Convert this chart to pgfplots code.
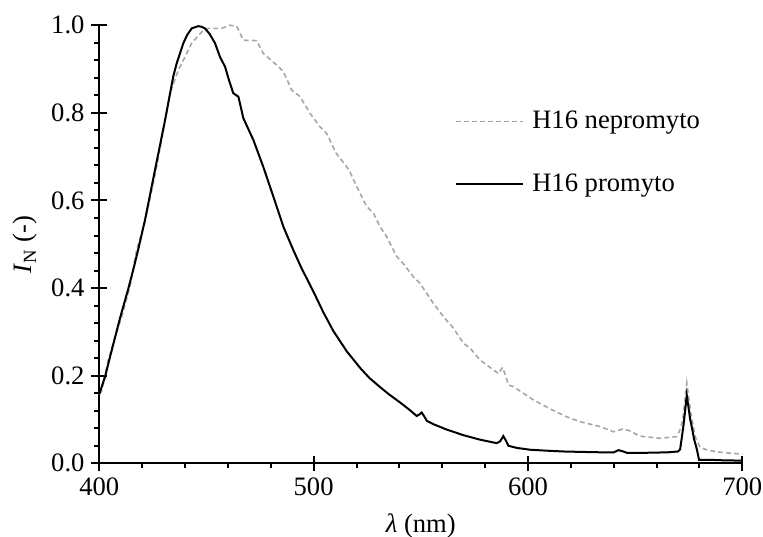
\documentclass[border=0pt]{standalone}
\usepackage{fontspec}
\setmainfont{Liberation Serif}
\usepackage{pgfplots}
\pgfplotsset{compat=1.18}
\definecolor{lgray}{HTML}{A6A6A6}
\begin{document}
\begin{tikzpicture}
\begin{axis}[
  scale only axis,
  width=321.5bp, height=219bp,
  xmin=400, xmax=700, ymin=0, ymax=1,
  clip=false,
  axis x line=bottom, axis y line=left,
  axis line style={-, line width=1bp},
  xtick={400,500,600,700},
  ytick={0,0.2,0.4,0.6,0.8,1.0},
  minor x tick num=4, minor y tick num=4,
  tick align=center,
  major tick length=7.8bp,
  minor tick length=2.5bp,
  every tick/.style={line width=1bp, black},
  minor x tick style={yshift=-1.25bp},
  minor y tick style={xshift=-1.25bp},
  /pgf/number format/assume math mode=true,
  yticklabel style={/pgf/number format/.cd, fixed, fixed zerofill, precision=1},
  xticklabel style={/pgf/number format/.cd, fixed, precision=0, 1000 sep={}},
  tick label style={font=\fontsize{13.3bp}{16bp}\selectfont},
  label style={font=\fontsize{13.3bp}{16bp}\selectfont},
  xlabel={\textit{λ} (nm)},
  xlabel style={yshift=-2bp},
  ylabel={\textit{I}\textsubscript{N} (-)},
  legend style={draw=none, fill=none, at={(axis cs:565.9,0.7085)}, anchor=west,
    inner sep=0pt, row sep=21bp, column sep=4bp,
    font=\fontsize{13.3bp}{16bp}\selectfont,
    nodes={inner sep=0pt}},
  legend cell align=left,
  legend image code/.code={\draw[#1] (0bp,0bp) -- (33.5bp,0bp);},
]
\addplot[lgray, line width=0.8bp, dash pattern=on 2.4bp off 1.6bp] coordinates {
(400,0.158) (401.1,0.165) (404.2,0.236) (407.5,0.29) (410.5,0.335) (414.3,0.403)
(417.4,0.487) (421.5,0.555) (426.5,0.67) (431,0.79) (433,0.845) (436.9,0.898)
(440,0.928) (443.1,0.959) (447.8,0.985) (450.9,0.993) (457.1,0.993) (461,1.0)
(464.1,0.998) (467.2,0.966) (473.4,0.965) (476.5,0.936) (482.8,0.909) (485.9,0.894)
(489.8,0.852) (493.7,0.837) (498.3,0.799) (503,0.768) (506.1,0.753) (510.5,0.708)
(516.5,0.670) (520.1,0.632) (524.8,0.586) (527.9,0.571) (531,0.540) (534.1,0.517)
(538.8,0.472) (542,0.455) (546.5,0.426) (549.6,0.411) (555.9,0.365) (560.5,0.335)
(565,0.31) (569.9,0.274) (573,0.263) (577.6,0.236) (582,0.22) (586.2,0.205)
(588.2,0.219) (590.9,0.179) (593.2,0.175) (602.5,0.145) (610,0.125) (618.1,0.106)
(625,0.094) (633.6,0.084) (639.9,0.072) (644,0.078) (647,0.075) (652.3,0.062)
(661.6,0.057) (669.4,0.061) (670.8,0.075) (672.2,0.099) (674.1,0.183) (676,0.114)
(678,0.061) (680.3,0.036) (684,0.03) (688.1,0.026) (695,0.023) (700,0.021)
};
\addlegendentry{H16 nepromyto}
\addplot[black, line width=1bp] coordinates {
(400,0.158) (402.7,0.198) (406,0.262) (409.7,0.332) (413.5,0.398) (415.9,0.443)
(418.2,0.489) (421.3,0.555) (426,0.67) (430.7,0.784) (434.5,0.883) (436.1,0.913)
(439.2,0.959) (441,0.978) (443.1,0.993) (446.2,0.998) (447.5,0.997) (449.3,0.993)
(451.5,0.98) (454,0.959) (456.3,0.928) (458.7,0.905) (460.5,0.875) (462.5,0.845)
(464.9,0.837) (467.2,0.788) (471.9,0.738) (476.5,0.677) (481.2,0.609) (485.9,0.540)
(490.5,0.487) (494.4,0.445) (499.9,0.392) (504.5,0.345) (509.2,0.302) (515.4,0.256)
(522,0.216) (526,0.195) (531,0.174) (535,0.158) (540.3,0.139) (545,0.121) (548.1,0.108)
(549.5,0.112) (550.4,0.116) (551.5,0.108) (552.8,0.097) (556,0.089) (562.1,0.077)
(570,0.064) (577.6,0.054) (585.4,0.046) (587,0.05) (588.5,0.062) (589.7,0.052)
(590.9,0.040) (595,0.035) (601,0.031) (608,0.029) (616.5,0.027) (625,0.026) (635,0.025)
(640,0.025) (642.2,0.030) (644.5,0.027) (646.1,0.024) (655,0.024) (665,0.025)
(670,0.027) (671,0.032) (672.5,0.084) (674.1,0.155) (675.7,0.10) (676.4,0.084)
(677.5,0.055) (678.8,0.032) (679.8,0.008) (685,0.008) (690,0.007) (700,0.006)
};
\addlegendentry{H16 promyto}
\end{axis}
\pgfresetboundingbox
\path (-49.65bp,-36.85bp) rectangle (331.85bp,231.65bp);
\end{tikzpicture}
\end{document}
